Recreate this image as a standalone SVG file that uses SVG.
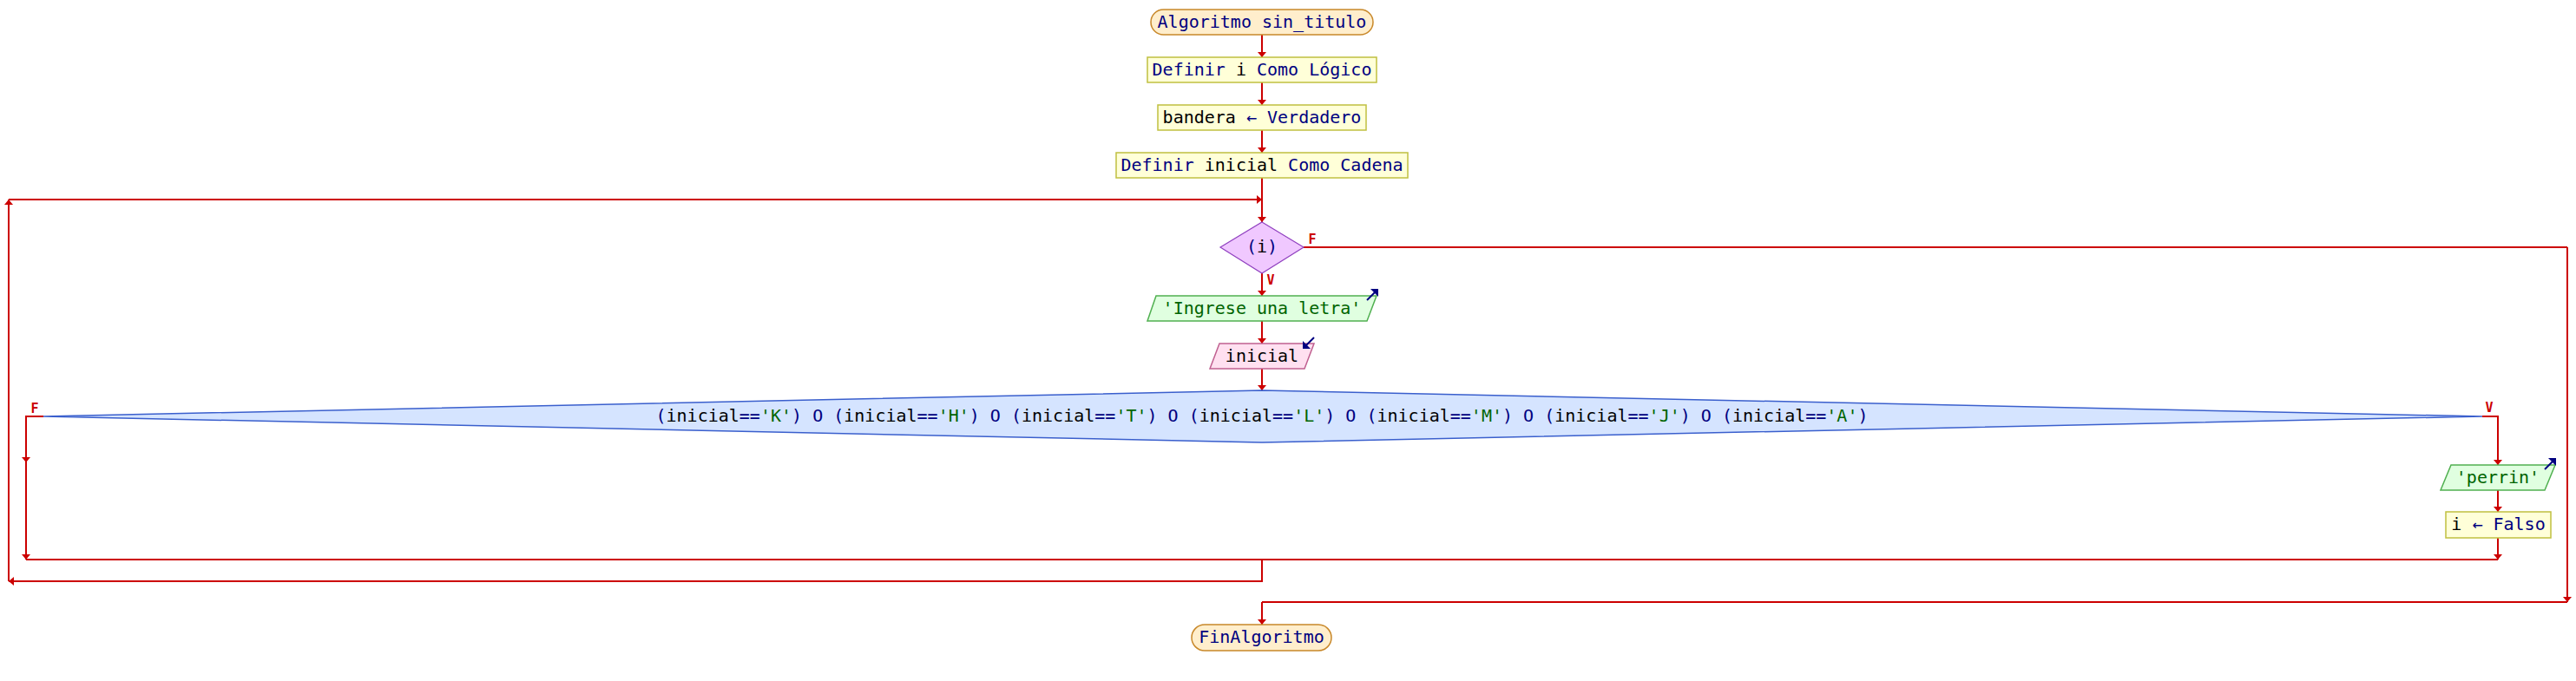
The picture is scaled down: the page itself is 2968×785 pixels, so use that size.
<svg xmlns="http://www.w3.org/2000/svg" width="2968" height="785" viewBox="0 0 2968 785">
<defs>
<style>
.t{font-family:"DejaVu Sans Mono","Liberation Mono",monospace;font-size:20px;text-anchor:middle}
.k{fill:#000080}
.v{fill:#000000}
.s{fill:#006400}
.lbl{font-family:"DejaVu Sans Mono","Liberation Mono",monospace;font-size:15px;font-weight:bold;fill:#cc0000;text-anchor:middle}
.ln{fill:none;stroke:#cc0000;stroke-width:2}
.ar{fill:none;stroke:#cc0000;stroke-width:2;marker-end:url(#ah)}
.term{fill:#ffeecc;stroke:#c8882a;stroke-width:1.5}
.proc{fill:#ffffd8;stroke:#c0c040;stroke-width:1.5}
.dec{fill:#f0c8ff;stroke:#9040c0;stroke-width:1.2}
.bigdec{fill:#d5e4ff;stroke:#3a5fcd;stroke-width:1.5}
.out{fill:#e0ffe0;stroke:#50b050;stroke-width:1.5}
.in{fill:#ffe0f0;stroke:#c06090;stroke-width:1.5}
.ico{stroke:#000080;stroke-width:2;fill:none}
.icoh{fill:#000080}
</style>
<marker id="ah" viewBox="0 0 6 10" refX="6" refY="5" markerWidth="6" markerHeight="10" markerUnits="userSpaceOnUse" orient="auto">
<path d="M0,0 L6,5 L0,10 z" fill="#cc0000"/>
</marker>
</defs>
<rect width="2968" height="785" fill="#ffffff"/>

<g id="connectors">
<path class="ar" d="M1454,40 V66"/>
<path class="ar" d="M1454,95 V121"/>
<path class="ar" d="M1454,150 V176"/>
<path class="ar" d="M1454,205 V256"/>
<path class="ar" d="M1454,315 V341"/>
<path class="ar" d="M1454,370 V396"/>
<path class="ar" d="M1454,425 V450"/>
<path class="ln" d="M1454,645 V670 H10"/>
<path class="ar" d="M11,670 H10"/>
<path class="ar" d="M10,670 V230"/>
<path class="ar" d="M10,230 H1454"/>
<path class="ln" d="M1502,285 H2958"/>
<path class="ar" d="M2958,285 V694"/>
<path class="ln" d="M2958,694 H1454"/>
<path class="ar" d="M1454,694 V720"/>
<path class="ar" d="M50,480 H30 V533"/>
<path class="ar" d="M30,533 V645"/>
<path class="ar" d="M2860,480 H2878 V536"/>
<path class="ar" d="M2878,565 V590"/>
<path class="ar" d="M2878,620 V645"/>
<path class="ln" d="M30,645 H2878"/>
<text class="lbl" x="1512" y="281">F</text>
<text class="lbl" x="1464" y="328">V</text>
<text class="lbl" x="40" y="476">F</text>
<text class="lbl" x="2868" y="475">V</text>
</g>

<g id="start">
<rect class="term" x="1326" y="11" width="256" height="29" rx="14.5"/>
<text class="t k" x="1454" y="32">Algoritmo sin_titulo</text>
</g>

<g id="def_i">
<rect class="proc" x="1322" y="66" width="264" height="29"/>
<text class="t" x="1454" y="87"><tspan class="k">Definir </tspan><tspan class="v">i</tspan><tspan class="k"> Como Lógico</tspan></text>
</g>

<g id="assign_bandera">
<rect class="proc" x="1334" y="121" width="240" height="29"/>
<text class="t" x="1454" y="142"><tspan class="v">bandera</tspan><tspan class="k"> ← Verdadero</tspan></text>
</g>

<g id="def_inicial">
<rect class="proc" x="1286" y="176" width="336" height="29"/>
<text class="t" x="1454" y="197"><tspan class="k">Definir </tspan><tspan class="v">inicial</tspan><tspan class="k"> Como Cadena</tspan></text>
</g>

<g id="while_i">
<polygon class="dec" points="1454,256 1502,285 1454,315 1406,285"/>
<text class="t" x="1454" y="291"><tspan class="k">(</tspan><tspan class="v">i</tspan><tspan class="k">)</tspan></text>
</g>

<g id="out_ingrese">
<polygon class="out" points="1332,341 1586,341 1575,370 1322,370"/>
<text class="t s" x="1454" y="362">'Ingrese una letra'</text>
<path class="ico" d="M1575,346 L1585,336"/>
<polygon class="icoh" points="1579,333 1588,333 1588,342"/>
</g>

<g id="in_inicial">
<polygon class="in" points="1405,396 1514,396 1503,425 1394,425"/>
<text class="t v" x="1454" y="417">inicial</text>
<path class="ico" d="M1514,389 L1504,399"/>
<polygon class="icoh" points="1501,393 1501,402 1510,402"/>
</g>

<g id="if_letras">
<polygon class="bigdec" points="50,480 1454,450 2860,480 1454,510"/>
<text class="t" x="1454" y="486"><tspan class="k">(</tspan><tspan class="v">inicial</tspan><tspan class="k">==</tspan><tspan class="s">'K'</tspan><tspan class="k">) O (</tspan><tspan class="v">inicial</tspan><tspan class="k">==</tspan><tspan class="s">'H'</tspan><tspan class="k">) O (</tspan><tspan class="v">inicial</tspan><tspan class="k">==</tspan><tspan class="s">'T'</tspan><tspan class="k">) O (</tspan><tspan class="v">inicial</tspan><tspan class="k">==</tspan><tspan class="s">'L'</tspan><tspan class="k">) O (</tspan><tspan class="v">inicial</tspan><tspan class="k">==</tspan><tspan class="s">'M'</tspan><tspan class="k">) O (</tspan><tspan class="v">inicial</tspan><tspan class="k">==</tspan><tspan class="s">'J'</tspan><tspan class="k">) O (</tspan><tspan class="v">inicial</tspan><tspan class="k">==</tspan><tspan class="s">'A'</tspan><tspan class="k">)</tspan></text>
</g>

<g id="out_perrin">
<polygon class="out" points="2824,536 2944,536 2932,565 2812,565"/>
<text class="t s" x="2878" y="557">'perrin'</text>
<path class="ico" d="M2932,541 L2942,531"/>
<polygon class="icoh" points="2936,528 2945,528 2945,537"/>
</g>

<g id="assign_i">
<rect class="proc" x="2818" y="590" width="121" height="30"/>
<text class="t" x="2878.5" y="611"><tspan class="v">i</tspan><tspan class="k"> ← Falso</tspan></text>
</g>

<g id="end">
<rect class="term" x="1373" y="720" width="161" height="30" rx="15"/>
<text class="t k" x="1453.5" y="741">FinAlgoritmo</text>
</g>
</svg>
